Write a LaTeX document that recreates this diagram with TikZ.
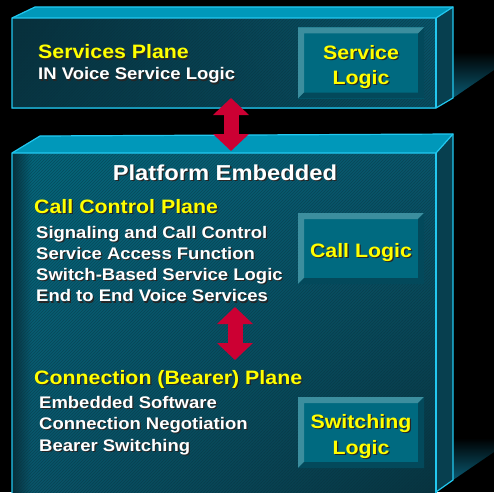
\documentclass[tikz,border=0pt]{standalone}
\usepackage{fontspec}
\setmainfont[FakeStretch=1.1]{Liberation Sans}
\usetikzlibrary{arrows.meta,patterns,shadings}

\definecolor{topface}{HTML}{0098BA}
\definecolor{sideface}{HTML}{073F4F}
\definecolor{frontdark}{HTML}{07303C}
\definecolor{frontlight}{HTML}{04667C}
\definecolor{frontmid}{HTML}{0A566B}
\definecolor{frontlow}{HTML}{083440}
\definecolor{rimcyan}{HTML}{22C8F0}
\definecolor{shadowteal}{HTML}{0A5A72}
\definecolor{logicface}{HTML}{006A80}
\definecolor{bevellight}{HTML}{3C8E9E}
\definecolor{beveldark}{HTML}{03495B}
\definecolor{arrowred}{HTML}{CC0033}
\definecolor{titleyellow}{HTML}{FFFF00}

% text with a small dark shadow behind it
\newcommand\shadowtxt[1]{\makebox[0pt][l]{\hspace{1.3pt}\raisebox{-1.3pt}{\color{black!85}#1}}#1}

\tikzset{
  rim/.style={draw=rimcyan, line width=1.2pt, line join=miter},
  svcfront/.style={upper left=frontdark, lower left=frontdark!85!frontmid,
    upper right=frontmid, lower right=frontmid!90!black},
  platfront/.style={upper left=frontlight, upper right=frontmid,
    lower left=frontmid, lower right=frontlow},
  leftstrip/.style={upper left=frontdark, lower left=frontdark,
    upper right=frontlight, lower right=frontmid},
  stripes/.style={pattern=north east lines, pattern color=frontdark, opacity=.45},
  dropshadow/.style={top color=black, bottom color=shadowteal},
  planetitle/.style={anchor=base west, inner sep=0pt, text=titleyellow,
    font=\bfseries\fontsize{19.4}{23}\selectfont},
  planetext/.style={anchor=base west, inner sep=0pt, text=white,
    font=\bfseries\fontsize{16.8}{21}\selectfont},
  logicbox/.style={minimum width=126pt, minimum height=71pt, inner sep=0pt,
    fill=logicface,
    path picture={
      \path (path picture bounding box.south west) coordinate (sw)
            (path picture bounding box.north east) coordinate (ne);
      \fill[bevellight] (sw) |- (ne) -- ++(-6pt,-6pt) -| ([shift={(6pt,6pt)}]sw) -- cycle;
      \fill[beveldark] (sw) -| (ne) -- ++(-6pt,-6pt) |- ([shift={(6pt,6pt)}]sw) -- cycle;
    }},
  logictext/.style={inner sep=0pt, align=center, text=titleyellow, yshift=-4.5pt,
    font=\bfseries\fontsize{19.4}{25.5}\selectfont},
  updown/.style={draw=arrowred, line width=15pt, <->, >={Triangle[width=35pt,length=17pt]}}
}

\begin{document}
\begin{tikzpicture}[x=1pt, y=-1pt]
    \useasboundingbox (0,0) rectangle (494,492);
    \fill[black] (0,0) rectangle (494,492);

    % shadows thrown to the right
    \shade[dropshadow] (453,52) -- (494,52) -- (494,70) -- (453,98) -- cycle;
    \shade[dropshadow] (453,438) -- (494,438) -- (494,452) -- (453,480) -- cycle;

    % services plane slab
    \shade[svcfront] (12,18) rectangle (436,108);
    \fill[stripes] (12,18) rectangle (436,108);
    \fill[sideface] (436,18) -- (453,7) -- (453,98) -- (436,108) -- cycle;
    \fill[topface] (12,18) -- (35,7) -- (453,7) -- (436,18) -- cycle;
    \draw[rim] (12,108) -- (12,18) -- (35,7) -- (453,7) -- (453,98) -- (436,108) -- cycle;
    \draw[rim] (12,18) -- (436,18) -- (453,7);
    \draw[rim] (436,18) -- (436,108);

    % platform slab
    \shade[platfront] (12,153) rectangle (436,495);
    \shade[leftstrip] (12,153) rectangle (32,495);
    \fill[stripes] (12,153) rectangle (436,495);
    \fill[sideface] (436,153) -- (453,134) -- (453,480) -- (436,492) -- cycle;
    \fill[topface] (12,153) -- (40,136) -- (453,134) -- (436,153) -- cycle;
    \draw[rim] (12,495) -- (12,153) -- (40,136) -- (453,134) -- (453,480) -- (436,492);
    \draw[rim] (12,153) -- (436,153) -- (453,134);
    \draw[rim] (436,153) -- (436,495);

    \node[planetitle] (svctitle) at (38,59) {\shadowtxt{Services Plane}};
    \node[planetext] (svctext) at (38,80) {\shadowtxt{IN Voice Service Logic}};
    \node[logicbox] (svclogic) at (361,63) {};
    \node[logictext] (svclogictext) at (svclogic) {\shadowtxt{Service}\\\shadowtxt{Logic}};

    \node[anchor=base, inner sep=0pt, text=white,
      font=\bfseries\fontsize{21.6}{26}\selectfont] (platform) at (225,180) {\shadowtxt{Platform Embedded}};

    \node[planetitle] (cctitle) at (34,213) {\shadowtxt{Call Control Plane}};
    \foreach \txt [count=\i] in {Signaling and Call Control, Service Access Function,
        Switch-Based Service Logic, End to End Voice Services}
    {
        \node[planetext] (cc\i) at (36,{238+21.3*(\i-1)}) {\shadowtxt{\txt}};
    }
    \node[logicbox] (calllogic) at (361,248.5) {};
    \node[logictext] (calllogictext) at (calllogic) {\shadowtxt{Call Logic}};

    \node[planetitle] (conntitle) at (34,384) {\shadowtxt{Connection (Bearer) Plane}};
    \foreach \txt [count=\i] in {Embedded Software, Connection Negotiation, Bearer Switching}
    {
        \node[planetext] (conn\i) at (39,{408+21.5*(\i-1)}) {\shadowtxt{\txt}};
    }
    \node[logicbox] (switchlogic) at (361,432.5) {};
    \node[logictext] (switchlogictext) at (switchlogic) {\shadowtxt{Switching}\\\shadowtxt{Logic}};

    \coordinate (svcup) at (231,98);
    \coordinate (platdown) at (231,151);
    \draw[updown] (svcup) -- (platdown);
    \coordinate (ccup) at (235,307);
    \coordinate (conndown) at (235,360);
    \draw[updown] (ccup) -- (conndown);
\end{tikzpicture}
\end{document}
